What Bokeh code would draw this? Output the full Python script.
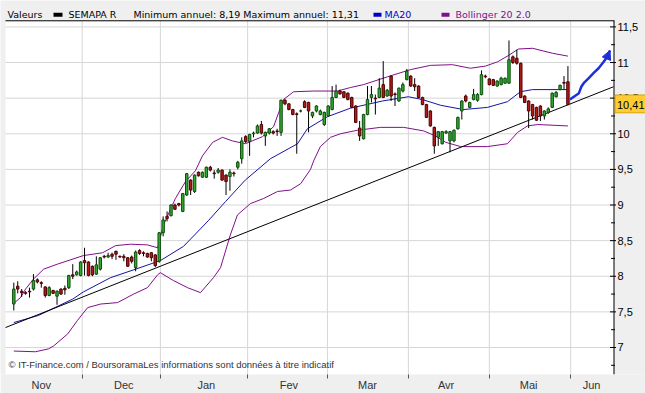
from bokeh.plotting import figure
from bokeh.models import (FixedTicker, Arrow, NormalHead, Range1d, ColumnDataSource)
from bokeh.core.properties import value
from bokeh.embed import file_html
from bokeh.resources import INLINE

# ---------------- data ----------------
open_ = [7.61, 7.86, 7.79, 7.77, 7.79, 7.82, 7.95, 7.91, 7.85, 7.73,
         7.80, 7.72, 7.82, 7.83, 7.84, 8.02, 8.02, 8.01, 8.22, 8.20,
         8.14, 8.03, 8.10, 8.28, 8.27, 8.31, 8.35, 8.28, 8.28, 8.26,
         8.27, 8.12, 8.36, 8.33, 8.32, 8.33, 8.30, 8.21, 8.61, 8.84,
         8.85, 9.00, 9.02, 8.91, 9.14, 9.35, 9.19, 9.46, 9.39, 9.39,
         9.53, 9.45, 9.46, 9.49, 9.42, 9.40, 9.45, 9.53, 9.65, 9.96,
         9.89, 10.00, 10.01, 10.13, 9.97, 10.01, 10.03, 10.04, 10.02, 10.47,
         10.42, 10.34, 10.28, 10.32, 10.45, 10.44, 10.25, 10.32, 10.27, 10.13,
         10.25, 10.34, 10.51, 10.60, 10.59, 10.57, 10.51, 10.39, 10.08, 9.93,
         10.27, 10.51, 10.50, 10.51, 10.69, 10.53, 10.81, 10.56, 10.46, 10.60,
         10.76, 10.81, 10.69, 10.67, 10.51, 10.41, 10.32, 10.09, 9.95, 9.86,
         10.01, 9.90, 9.90, 10.07, 10.32, 10.53, 10.37, 10.48, 10.47, 10.55,
         10.81, 10.77, 10.76, 10.67, 10.69, 10.71, 10.71, 11.08, 11.06, 10.99,
         10.53, 10.46, 10.41, 10.37, 10.39, 10.25, 10.30, 10.37, 10.52, 10.62,
         10.72, 10.73]
high = [7.91, 7.93, 7.82, 7.79, 7.84, 8.03, 7.97, 7.93, 7.86, 7.86,
        7.81, 7.80, 7.83, 7.87, 8.02, 8.17, 8.08, 8.21, 8.40, 8.21,
        8.15, 8.28, 8.27, 8.30, 8.33, 8.33, 8.36, 8.29, 8.31, 8.27,
        8.29, 8.36, 8.38, 8.35, 8.33, 8.34, 8.31, 8.62, 8.84, 8.91,
        9.01, 9.02, 9.03, 9.17, 9.45, 9.36, 9.43, 9.47, 9.47, 9.54,
        9.55, 9.49, 9.52, 9.50, 9.43, 9.50, 9.47, 9.62, 9.95, 9.98,
        10.00, 10.03, 10.13, 10.18, 10.03, 10.08, 10.05, 10.07, 10.48, 10.49,
        10.43, 10.35, 10.30, 10.34, 10.47, 10.45, 10.31, 10.40, 10.34, 10.31,
        10.40, 10.67, 10.69, 10.62, 10.60, 10.58, 10.52, 10.40, 10.18, 10.28,
        10.67, 10.67, 10.55, 10.78, 11.02, 10.63, 10.82, 10.58, 10.65, 10.72,
        10.91, 10.82, 10.78, 10.68, 10.52, 10.42, 10.33, 10.10, 10.04, 10.04,
        10.05, 10.04, 10.06, 10.24, 10.47, 10.55, 10.45, 10.63, 10.57, 10.89,
        10.83, 10.78, 10.77, 10.75, 10.80, 10.79, 11.31, 11.10, 11.18, 11.00,
        10.54, 10.47, 10.42, 10.38, 10.40, 10.33, 10.37, 10.58, 10.60, 10.69,
        10.81, 10.95]
low = [7.52, 7.76, 7.71, 7.74, 7.70, 7.80, 7.90, 7.84, 7.70, 7.72,
       7.75, 7.60, 7.74, 7.74, 7.82, 7.96, 8.01, 8.00, 8.01, 8.00,
       8.00, 8.02, 8.08, 8.25, 8.26, 8.24, 8.23, 8.26, 8.21, 8.13,
       8.18, 8.07, 8.30, 8.28, 8.26, 8.21, 8.13, 8.19, 8.56, 8.77,
       8.84, 8.93, 8.98, 8.90, 9.13, 9.14, 9.17, 9.40, 9.38, 9.38,
       9.47, 9.37, 9.44, 9.34, 9.14, 9.20, 9.40, 9.50, 9.58, 9.87,
       9.69, 9.95, 10.00, 9.99, 9.83, 9.99, 9.99, 9.97, 9.97, 10.40,
       10.33, 10.26, 9.72, 10.30, 10.36, 10.02, 10.22, 10.30, 10.26, 10.11,
       10.24, 10.33, 10.50, 10.55, 10.50, 10.47, 10.36, 10.15, 9.90, 9.92,
       10.26, 10.44, 10.27, 10.50, 10.50, 10.52, 10.46, 10.39, 10.45, 10.58,
       10.75, 10.66, 10.60, 10.50, 10.40, 10.22, 10.10, 9.72, 9.83, 9.85,
       10.00, 9.74, 9.88, 10.06, 10.20, 10.44, 10.36, 10.47, 10.45, 10.54,
       10.78, 10.68, 10.67, 10.66, 10.68, 10.70, 10.70, 10.98, 10.97, 10.50,
       10.43, 10.08, 10.20, 10.18, 10.18, 10.20, 10.28, 10.36, 10.51, 10.61,
       10.62, 10.40]
close = [7.82, 7.82, 7.77, 7.76, 7.78, 7.94, 7.92, 7.90, 7.73, 7.84,
         7.76, 7.79, 7.75, 7.81, 8.01, 8.00, 8.06, 8.20, 8.19, 8.01,
         8.02, 8.16, 8.26, 8.27, 8.29, 8.28, 8.31, 8.27, 8.26, 8.14,
         8.21, 8.34, 8.32, 8.32, 8.27, 8.26, 8.15, 8.61, 8.79, 8.81,
         9.00, 8.94, 9.00, 9.16, 9.44, 9.21, 9.42, 9.41, 9.46, 9.53,
         9.49, 9.44, 9.49, 9.35, 9.33, 9.46, 9.44, 9.60, 9.90, 9.89,
         9.99, 10.01, 10.11, 10.01, 10.02, 10.07, 10.01, 10.03, 10.47, 10.42,
         10.34, 10.27, 10.27, 10.32, 10.37, 10.32, 10.30, 10.39, 10.32, 10.30,
         10.39, 10.51, 10.60, 10.56, 10.51, 10.48, 10.37, 10.16, 9.97, 10.27,
         10.48, 10.55, 10.49, 10.64, 10.51, 10.61, 10.53, 10.55, 10.64, 10.69,
         10.88, 10.67, 10.66, 10.51, 10.41, 10.23, 10.11, 9.83, 10.03, 10.03,
         10.03, 10.03, 10.05, 10.23, 10.46, 10.46, 10.44, 10.55, 10.55, 10.83,
         10.80, 10.69, 10.68, 10.74, 10.78, 10.78, 11.04, 11.00, 10.99, 10.51,
         10.44, 10.32, 10.25, 10.19, 10.25, 10.32, 10.35, 10.57, 10.58, 10.68,
         10.71, 10.41]

# moving average 20 (day index, price)
ma20_x = [0, 6.3, 10.1, 15.0, 17.7, 24.6, 30.5, 37.3, 43.2, 49.5, 53.9, 58.9,
          65.3, 72.2, 74.7, 79.8, 85.7, 93.8, 100.4, 104.0, 108.6, 114.4,
          120.5, 125.6, 128.9, 132.0, 141]
ma20_y = [7.35, 7.45, 7.55, 7.68, 7.78, 7.98, 8.09, 8.22, 8.42, 8.78, 9.05, 9.35,
          9.65, 9.86, 10.07, 10.24, 10.36, 10.46, 10.52, 10.48, 10.40, 10.34,
          10.37, 10.45, 10.59, 10.62, 10.62]

# Bollinger 20 2.0 bands
boll_up_x = [0, 1.7, 3.0, 5.0, 7.6, 11.1, 17.7, 22.6, 25.9, 29.7, 34.0, 36.6,
             38.1, 41.1, 43.7, 46.2, 48.0, 50.6, 53.1, 55.6, 58.9, 63.3, 66.1,
             68.6, 71.2, 76.3, 82.4, 85.7, 89.0, 95.1, 100.9, 106.0, 111.6,
             116.2, 120.0, 123.1, 125.9, 128.4, 132.0, 137.1, 141]
boll_up_y = [7.62, 7.70, 7.82, 7.96, 8.10, 8.17, 8.29, 8.33, 8.43, 8.45, 8.44, 8.40,
             8.72, 9.09, 9.33, 9.48, 9.69, 9.88, 9.95, 9.90, 9.86, 9.96, 10.10,
             10.48, 10.59, 10.60, 10.60, 10.65, 10.69, 10.80, 10.90, 10.96, 10.97,
             10.92, 10.95, 11.01, 11.10, 11.19, 11.20, 11.13, 11.09]
boll_lo_x = [0, 5.5, 8.8, 10.1, 13.7, 16.2, 18.8, 22.1, 26.4, 30.5, 34.0, 36.6,
             37.3, 40.6, 44.2, 47.5, 50.8, 52.6, 55.1, 56.9, 60.2, 63.5, 67.1,
             70.4, 73.0, 75.5, 76.3, 78.0, 80.6, 83.1, 87.5, 93.3, 99.2, 104.3,
             107.3, 109.9, 113.7, 120.5, 125.6, 128.2, 130.7, 133.3, 141]
boll_lo_y = [6.95, 6.94, 6.98, 7.02, 7.19, 7.38, 7.56, 7.61, 7.63, 7.75, 7.84, 8.02,
             8.05, 7.94, 7.84, 7.77, 7.98, 8.12, 8.58, 8.86, 9.02, 9.09, 9.19,
             9.21, 9.30, 9.50, 9.62, 9.82, 9.95, 10.00, 10.05, 10.09, 10.09, 10.04,
             9.97, 9.88, 9.82, 9.82, 9.86, 10.02, 10.11, 10.13, 10.11]

# drawn support line and hand-drawn arrow
trend_x = [-2.1, 152.6]
trend_y = [7.28, 10.66]
arrow_x = [141.5, 143.8, 144.4, 145.0, 146.3, 147.5, 148.8, 150.1, 151.0, 151.7]
arrow_y = [10.48, 10.57, 10.66, 10.71, 10.78, 10.85, 10.92, 11.01, 11.08, 11.17]

months = ["Nov", "Dec", "Jan", "Fev", "Mar", "Avr", "Mai", "Jun"]
month_label_pos = [7, 28, 49, 70, 90, 110, 131, 147]
month_starts = [17.4, 37.3, 59.5, 79.8, 100.4, 121.0, 141.7]
price_ticks = [7, 7.5, 8, 8.5, 9, 9.5, 10, 10.5, 11, 11.5]
price_minor_ticks = [6.75, 7.25, 7.75, 8.25, 8.75, 9.25, 9.75, 10.25, 10.75, 11.25]
last_price = 10.41
header_name = "SEMAPA R"
header_stats = "Minimum annuel: 8,19 Maximum annuel: 11,31"
copyright_text = ("\u00a9 IT-Finance.com / BoursoramaLes informations sont "
                  "donn\u00e9es \u00e0 titre indicatif")

# ---------------- layout helpers (reference pixels -> data) ----------------
X0, PXD = 13.3, 3.93          # screen x of day 0, px per trading day
Y115, PXU = 26.7, 72.0        # screen y of 11.5, px per price unit


def sx(px):
    return (px - X0) / PXD


def sy(py):
    return 11.5 - (py - Y115) / PXU


def fmt(v):
    return f"{v:g}".replace(".", ",")


GREEN, GREEN_EDGE = "#36a836", "#0b4f0b"
RED, RED_EDGE = "#ad1c1c", "#520000"
BLUE_MA = "#1414a0"
PURPLE = "#80108a"
ARROW_BLUE = "#1f2fd8"
GRID = "#d6d6d6"
BG = "#efefef"
FONT = "Liberation Sans"
HFONT = "DejaVu Sans"

W, H = 645, 393
PLOT_L, PLOT_R, PLOT_T, PLOT_B = 5, 613, 20.5, 378

p = figure(width=W, height=H, output_backend="svg", toolbar_location=None,
           x_range=Range1d(sx(0), sx(W)), y_range=Range1d(sy(PLOT_B), sy(0)),
           y_axis_location=None, x_axis_location="below",
           min_border_left=0, min_border_right=0, min_border_top=0,
           min_border_bottom=H - PLOT_B)
p.border_fill_color = BG
p.background_fill_color = BG
p.outline_line_color = None
p.grid.visible = False

# bottom month axis
xa = p.xaxis[0]
xa.ticker = FixedTicker(ticks=month_label_pos, minor_ticks=month_starts)
xa.major_label_overrides = {k: v for k, v in zip(month_label_pos, months)}
xa.major_tick_line_color = None
xa.major_tick_out = 0
xa.major_tick_in = 0
xa.minor_tick_out = 4
xa.minor_tick_in = 0
xa.minor_tick_line_color = "#555555"
xa.axis_line_color = None
xa.major_label_standoff = 0
xa.major_label_text_font = FONT
xa.major_label_text_font_size = "11px"
xa.major_label_text_color = "#333333"

# white plotting area
p.quad(left=[sx(PLOT_L)], right=[sx(PLOT_R)], bottom=[sy(PLOT_B)], top=[sy(PLOT_T)],
       fill_color="white", line_color=None)

# grid lines
p.segment(x0=[sx(PLOT_L)] * len(price_ticks), x1=[sx(PLOT_R)] * len(price_ticks),
          y0=price_ticks, y1=price_ticks, line_color=GRID, line_width=1)
p.segment(x0=month_starts, x1=month_starts,
          y0=[sy(PLOT_B)] * len(month_starts), y1=[sy(PLOT_T)] * len(month_starts),
          line_color=GRID, line_width=1)

# indicators
p.line(boll_up_x, boll_up_y, line_color=PURPLE, line_width=1)
p.line(boll_lo_x, boll_lo_y, line_color=PURPLE, line_width=1)
p.line(ma20_x, ma20_y, line_color=BLUE_MA, line_width=1)
p.line(trend_x, trend_y, line_color="black", line_width=1)

# candles
idx = list(range(len(close)))
src = ColumnDataSource(dict(
    x=idx, h=high, l=low,
    top=[max(o, c) for o, c in zip(open_, close)],
    bot=[min(o, c) for o, c in zip(open_, close)],
    fill=[GREEN if c >= o else RED for o, c in zip(open_, close)],
    edge=[GREEN_EDGE if c >= o else RED_EDGE for o, c in zip(open_, close)],
))
p.segment(x0="x", y0="l", x1="x", y1="h", source=src, line_color="black", line_width=1)
p.vbar(x="x", width=0.62, top="top", bottom="bot", source=src,
       fill_color="fill", line_color="edge", line_width=1)

# hand drawn arrow
p.line(arrow_x, arrow_y, line_color=ARROW_BLUE, line_width=2.5)
p.add_layout(Arrow(end=NormalHead(size=9, fill_color=ARROW_BLUE, line_color=ARROW_BLUE),
                   x_start=arrow_x[-2], y_start=arrow_y[-2],
                   x_end=arrow_x[-1], y_end=arrow_y[-1],
                   line_color=ARROW_BLUE, line_width=2.5))

# right price scale: axis line, ticks, labels
p.segment(x0=[sx(613.5)], x1=[sx(613.5)], y0=[sy(PLOT_B)], y1=[sy(PLOT_T)],
          line_color="black", line_width=1)
p.segment(x0=[sx(609.5)] * len(price_ticks), x1=[sx(615.5)] * len(price_ticks),
          y0=price_ticks, y1=price_ticks, line_color="black", line_width=1)
p.segment(x0=[sx(610.5)] * len(price_minor_ticks), x1=[sx(614.5)] * len(price_minor_ticks),
          y0=price_minor_ticks, y1=price_minor_ticks, line_color="black", line_width=1)
p.text(x=[sx(617)] * len(price_ticks), y=price_ticks, text=[fmt(t) for t in price_ticks],
       text_font=value(FONT), text_font_size="11px", text_color="black",
       text_baseline="middle", text_align="left")

# last price tag
p.quad(left=[sx(614.5)], right=[sx(646)], bottom=[sy(113.5)], top=[sy(95.5)],
       fill_color="#ffcc33", line_color="#d9a400")
p.text(x=[sx(616.5)], y=[last_price], text=[fmt(last_price)],
       text_font=value(FONT), text_font_size="11px", text_color="black",
       text_baseline="middle", text_align="left")

# header line and legend
p.segment(x0=[sx(PLOT_L)], x1=[sx(614)], y0=[sy(20.5)], y1=[sy(20.5)],
          line_color="black", line_width=1)
p.quad(left=[sx(53), sx(373), sx(441)], right=[sx(62), sx(381), sx(449)],
       bottom=[sy(16.5)] * 3, top=[sy(12.5)] * 3,
       fill_color=["black", "#0000cc", PURPLE], line_color=None)
p.text(x=[sx(7), sx(68), sx(133), sx(384), sx(455)], y=[sy(14.5)] * 5,
       text=["Valeurs", header_name, header_stats, "MA20", "Bollinger 20 2.0"],
       text_color=["black", "black", "black", "#0000cc", PURPLE],
       text_font=value(HFONT), text_font_size="9.5px",
       text_baseline="middle", text_align="left")

# copyright
p.text(x=[sx(8)], y=[sy(368)], text=[copyright_text],
       text_font=value(FONT), text_font_size="9.5px", text_color="#333333",
       text_baseline="middle", text_align="left")

open("out.html", "w").write(file_html(p, INLINE))
